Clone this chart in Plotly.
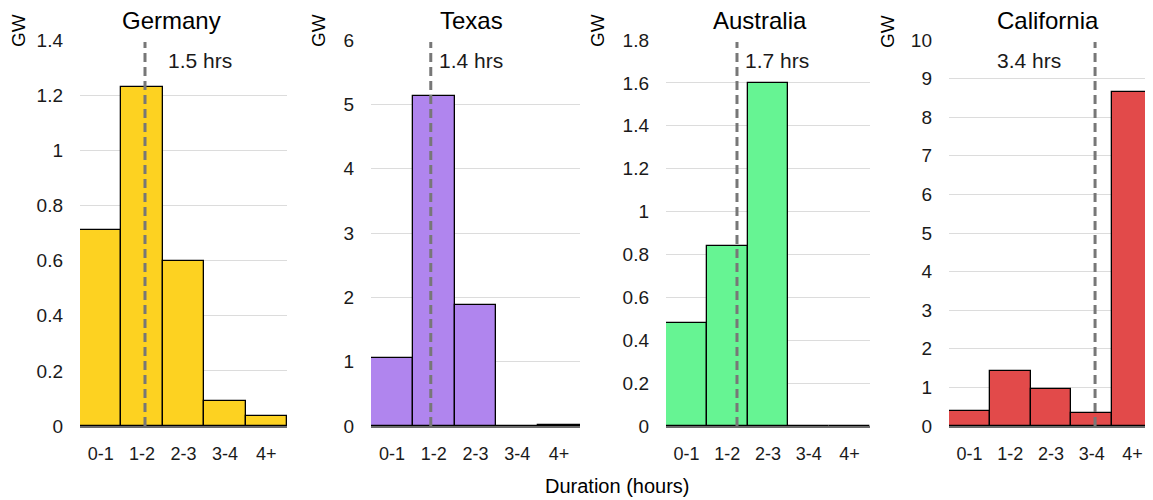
import plotly.graph_objects as go

categories = ["0-1", "1-2", "2-3", "3-4", "4+"]
regions = ["Germany", "Texas", "Australia", "California"]
germany = [0.71, 1.23, 0.60, 0.09, 0.035]
texas = [1.06, 5.13, 1.88, 0.0, 0.02]
australia = [0.48, 0.84, 1.60, 0.0, 0.0]
california = [0.39, 1.42, 0.96, 0.34, 8.65]
series = [germany, texas, australia, california]
colors = ["#FDD221", "#B085EE", "#66F493", "#E24A4A"]
avg_labels = ["1.5 hrs", "1.4 hrs", "1.7 hrs", "3.4 hrs"]
# dashed line position on the category axis
avg_pos = [1.07, 0.93, 1.24, 3.08]
# label position on the category axis
lab_pos = [1.58, 1.08, 1.39, 1.46]
lab_anchor = ["left", "left", "left", "center"]
y_max = [1.4, 6, 1.8, 10]
y_dtick = [0.2, 1, 0.2, 1]

# page body has an 8px margin; lay out in window pixels and shift by it
OFF = 8
W, H = 1153 - OFF, 500 - OFF
xdoms = [(80, 287), (371, 580), (666, 870), (949, 1153)]
title_cx = [171, 471, 760, 1048]
gw_x = [18, 318, 597, 887]
ytop, ybot = 40, 426


def px(x):
    return (x - OFF) / W


def py(y):
    return 1 - (y - OFF) / H


FONT = "Liberation Sans, Arial, sans-serif"

fig = go.Figure()
for i in range(4):
    xa = "x" if i == 0 else f"x{i+1}"
    ya = "y" if i == 0 else f"y{i+1}"
    fig.add_trace(go.Bar(
        x=categories, y=series[i], xaxis=xa, yaxis=ya,
        marker=dict(color=colors[i], line=dict(color="black", width=1.3)),
        showlegend=False, hoverinfo="x+y",
    ))
    xkey = "xaxis" if i == 0 else f"xaxis{i+1}"
    ykey = "yaxis" if i == 0 else f"yaxis{i+1}"
    fig.update_layout(**{
        xkey: dict(domain=[px(xdoms[i][0]), min(1.0, px(xdoms[i][1]))], anchor=ya,
                   type="category", range=[-0.5, 4.5], showgrid=False,
                   showline=True, linecolor="#6b6b6b", linewidth=1.5,
                   ticks="", ticklabelstandoff=11, automargin=False,
                   tickfont=dict(size=18, color="#1a1a1a", family=FONT)),
        ykey: dict(domain=[py(ybot), py(ytop)], anchor=xa,
                   range=[0, y_max[i]], dtick=y_dtick[i], showgrid=True,
                   gridcolor="#dcdcdc", gridwidth=1, zeroline=False,
                   showline=False, ticks="", ticklabelstandoff=16, automargin=False,
                   tickfont=dict(size=19, color="#1a1a1a", family=FONT)),
    })
    # dashed average line
    fig.add_shape(type="line", xref=xa, yref=f"{ya} domain",
                  x0=avg_pos[i], x1=avg_pos[i], y0=0, y1=0.995,
                  line=dict(color="#777777", width=3, dash="9px,5px"))
    fig.add_annotation(xref=xa, yref=f"{ya} domain", x=lab_pos[i], y=0.948,
                       text=avg_labels[i], showarrow=False, xanchor=lab_anchor[i],
                       yanchor="middle", font=dict(size=21, color="#1a1a1a", family=FONT))
    # subplot title
    fig.add_annotation(xref="paper", yref="paper", x=px(title_cx[i]), y=py(20),
                       text=regions[i], showarrow=False, xanchor="center", yanchor="middle",
                       font=dict(size=24, color="black", family=FONT))
    # GW label
    fig.add_annotation(xref="paper", yref="paper", x=px(gw_x[i]), y=py(31),
                       text="GW", textangle=-90, showarrow=False,
                       xanchor="center", yanchor="middle",
                       font=dict(size=19, color="black", family=FONT))

fig.add_annotation(xref="paper", yref="paper", x=px(617), y=py(486),
                   text="Duration (hours)", showarrow=False, xanchor="center", yanchor="middle",
                   font=dict(size=20, color="black", family=FONT))

fig.update_layout(width=W, height=H, margin=dict(l=0, r=0, t=0, b=0, autoexpand=False),
                  paper_bgcolor="white", plot_bgcolor="white", bargap=0,
                  font=dict(family=FONT))
fig.write_html("out.html")
